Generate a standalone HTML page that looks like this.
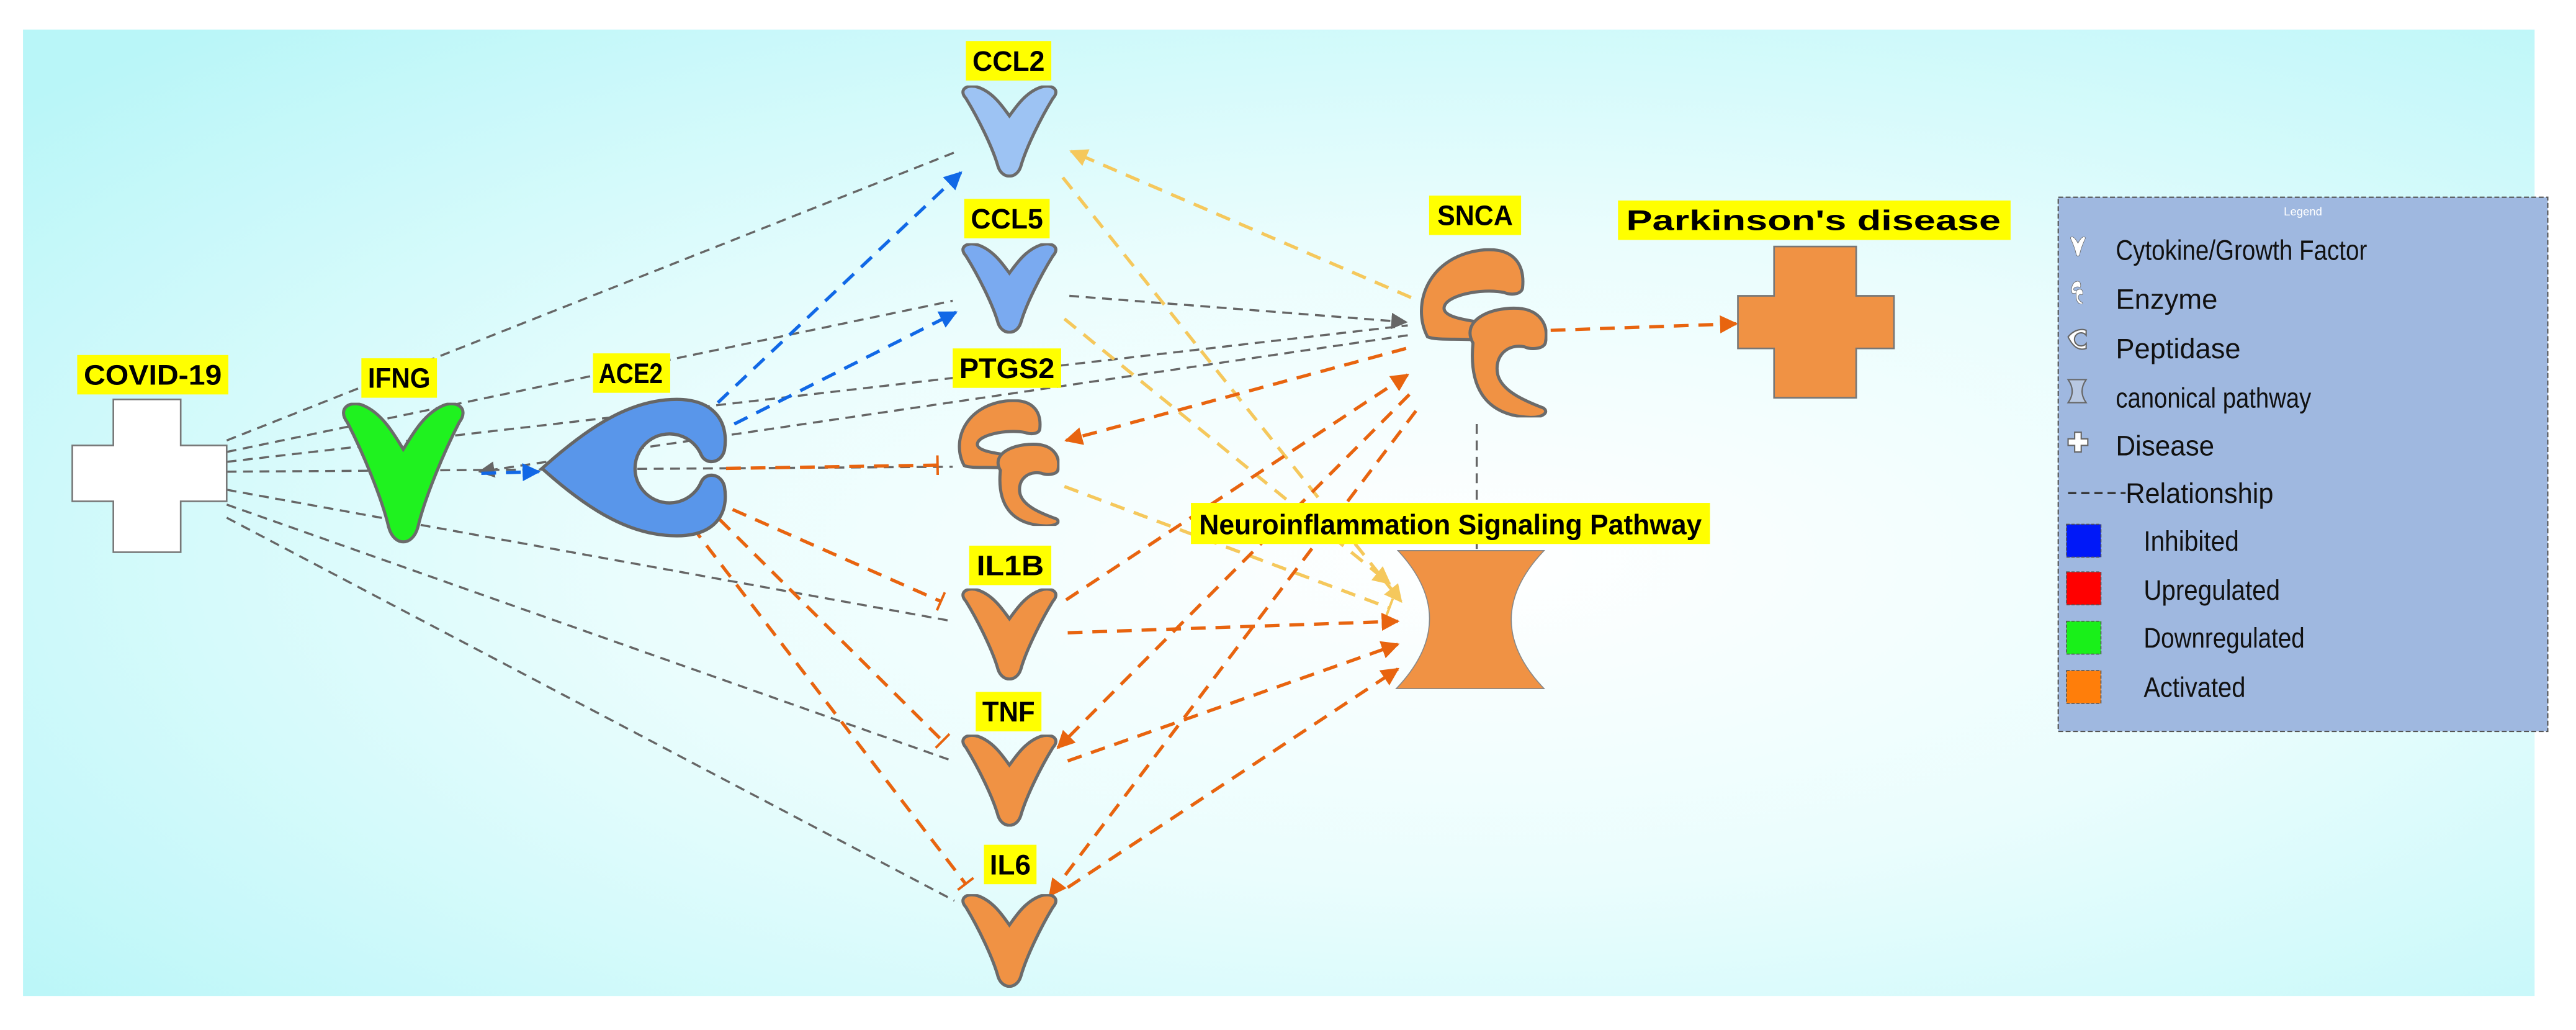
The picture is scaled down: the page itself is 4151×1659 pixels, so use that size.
<!DOCTYPE html>
<html><head><meta charset="utf-8"><style>html,body{margin:0;padding:0;background:#fff;}svg{display:block}</style></head>
<body>
<svg width="4151" height="1659" viewBox="0 0 1568.2 626.7" preserveAspectRatio="none" xmlns="http://www.w3.org/2000/svg">
<defs>
<radialGradient id="bg" cx="0.58" cy="0.55" r="0.75">
<stop offset="0" stop-color="#ffffff"/><stop offset="0.45" stop-color="#eafdfd"/><stop offset="1" stop-color="#b9f6f8"/>
</radialGradient>
<marker id="ag" viewBox="0 0 10 10" refX="9" refY="5" markerWidth="10" markerHeight="10" markerUnits="userSpaceOnUse" orient="auto"><path d="M0,0 L10,5 L0,10 Z" fill="#666"/></marker>
<marker id="ao" viewBox="0 0 10 10" refX="9" refY="5" markerWidth="11" markerHeight="11" markerUnits="userSpaceOnUse" orient="auto"><path d="M0,0 L10,5 L0,10 Z" fill="#e8640f"/></marker>
<marker id="ab" viewBox="0 0 10 10" refX="9" refY="5" markerWidth="11" markerHeight="11" markerUnits="userSpaceOnUse" orient="auto"><path d="M0,0 L10,5 L0,10 Z" fill="#1168e6"/></marker>
<marker id="ay" viewBox="0 0 10 10" refX="9" refY="5" markerWidth="11" markerHeight="11" markerUnits="userSpaceOnUse" orient="auto"><path d="M0,0 L10,5 L0,10 Z" fill="#f5c85c"/></marker>
<marker id="bo" viewBox="0 0 4 12" refX="2" refY="6" markerWidth="4" markerHeight="12" markerUnits="userSpaceOnUse" orient="auto"><rect x="1" y="0" width="1.5" height="12" fill="#e8640f"/></marker>
<marker id="by" viewBox="0 0 4 12" refX="2" refY="6" markerWidth="4" markerHeight="12" markerUnits="userSpaceOnUse" orient="auto"><rect x="1" y="0" width="1.5" height="12" fill="#f5c85c"/></marker>
<symbol id="vsh" viewBox="0 0 100 100" preserveAspectRatio="none">
<path vector-effect="non-scaling-stroke" d="M8,14 C0,4 10,-2 20,2 C35,8 44,24 50,33 C56,24 65,8 80,2 C90,-2 100,4 92,14 C80,36 66,68 61,88 C57,102 43,102 39,88 C34,68 20,36 8,14 Z"/>
</symbol>
<symbol id="enz" viewBox="0 0 310 535" preserveAspectRatio="none">
<path vector-effect="non-scaling-stroke" d="M20,280 C-20,180 20,20 160,5 C235,0 255,60 250,125 C248,145 225,150 205,140 C150,125 60,150 60,190 C60,215 100,225 150,235 L140,290 C90,285 40,292 20,280 Z"/>
<path vector-effect="non-scaling-stroke" d="M130,300 C100,230 170,185 240,190 C290,195 315,240 305,300 C300,318 272,322 255,312 C215,300 180,340 190,400 C200,450 250,480 300,505 C315,518 300,535 270,535 C160,530 120,440 130,300 Z"/>
</symbol>
</defs>
<rect x="0" y="0" width="1568.2" height="626.7" fill="#fff"/>
<rect x="14" y="18" width="1529" height="588" fill="url(#bg)"/>

<!-- grey relationships -->
<g fill="none" stroke="#666" stroke-width="1.3" stroke-dasharray="6 4">
<line x1="138" y1="268" x2="583" y2="92"/>
<line x1="138" y1="275" x2="580" y2="183"/>
<line x1="138" y1="281" x2="857" y2="198"/>
<line x1="138" y1="287" x2="580" y2="284"/>
<line x1="138" y1="298" x2="580" y2="378"/>
<line x1="138" y1="307" x2="580" y2="463"/>
<line x1="138" y1="315" x2="581" y2="548"/>
<line x1="857" y1="204" x2="292" y2="287" marker-end="url(#ag)"/>
<line x1="651" y1="180" x2="856" y2="196" marker-end="url(#ag)"/>
<line x1="899" y1="258" x2="899" y2="334"/>
</g>
<!-- yellow -->
<g fill="none" stroke="#f5c85c" stroke-width="2" stroke-dasharray="9 6">
<line x1="859" y1="181" x2="652" y2="92" marker-end="url(#ay)"/>
<line x1="647" y1="108" x2="853" y2="366" marker-end="url(#ay)"/>
<line x1="648" y1="194" x2="846" y2="355" marker-end="url(#ay)"/>
<line x1="648" y1="296" x2="846" y2="370" marker-end="url(#by)"/>
</g>
<!-- blue -->
<g fill="none" stroke="#1168e6" stroke-width="2" stroke-dasharray="9 6">
<line x1="437" y1="245" x2="585" y2="105" marker-end="url(#ab)"/>
<line x1="447" y1="258" x2="582" y2="190" marker-end="url(#ab)"/>
<line x1="293" y1="288" x2="328" y2="287" marker-end="url(#ab)"/>
</g>
<!-- orange -->
<g fill="none" stroke="#e8640f" stroke-width="2" stroke-dasharray="9 6">
<line x1="442" y1="285" x2="571" y2="283" marker-end="url(#bo)"/>
<line x1="446" y1="310" x2="573" y2="366" marker-end="url(#bo)"/>
<line x1="438" y1="316" x2="574" y2="451" marker-end="url(#bo)"/>
<line x1="421" y1="320" x2="588" y2="538" marker-end="url(#bo)"/>
<line x1="856" y1="212" x2="649" y2="268" marker-end="url(#ao)"/>
<line x1="649" y1="365" x2="857" y2="228" marker-end="url(#ao)"/>
<line x1="858" y1="240" x2="644" y2="455" marker-end="url(#ao)"/>
<line x1="862" y1="250" x2="639" y2="545" marker-end="url(#ao)"/>
<line x1="650" y1="385" x2="851" y2="378" marker-end="url(#ao)"/>
<line x1="650" y1="463" x2="851" y2="392" marker-end="url(#ao)"/>
<line x1="650" y1="540" x2="851" y2="407" marker-end="url(#ao)"/>
<line x1="944" y1="201" x2="1057" y2="197" marker-end="url(#ao)"/>
</g>

<!-- nodes -->
<polygon points="69,243 110,243 110,271 138,271 138,305 110,305 110,336 69,336 69,305 44,305 44,271 69,271" fill="#fff" stroke="#777" stroke-width="1"/>
<polygon points="1080,150 1130,150 1130,180 1153,180 1153,212 1130,212 1130,242 1080,242 1080,212 1058,212 1058,180 1080,180" fill="#f09244" stroke="#777" stroke-width="1"/>
<g stroke="#6b6b6b" stroke-width="5">
<use href="#vsh" x="205" y="245" width="81" height="86" fill="#1ff21f"/>
<use href="#vsh" x="583" y="52" width="63" height="56" fill="#9dc3f3"/>
<use href="#vsh" x="583" y="148" width="63" height="55" fill="#7aaaf0"/>
<use href="#vsh" x="583" y="358" width="63" height="56" fill="#f09244"/>
<use href="#vsh" x="583" y="447" width="63" height="56" fill="#f09244"/>
<use href="#vsh" x="583" y="544" width="63" height="57" fill="#f09244"/>
<use href="#enz" x="583" y="243" width="62" height="77" fill="#f09244"/>
<use href="#enz" x="864" y="151" width="78" height="103" fill="#f09244"/>
</g>
<path d="M330,285 C360,258 385,243 412,243 C434,243 444,256 441,274 C439,282 430,283 427,277 A21,21 0 1 0 427,293 C430,287 439,288 441,296 C444,314 434,326 412,326 C385,326 360,312 330,285 Z" fill="#5996ea" stroke="#666" stroke-width="2"/>
<path d="M851,335 L940,335 Q900,377 940,419 L850,419 Q890,377 851,335 Z" fill="#f09244" stroke="#888" stroke-width="0.6"/>

<!-- labels -->
<g font-family="'Liberation Sans Narrow','Liberation Sans',sans-serif" font-weight="bold" font-size="17" text-anchor="middle" fill="#000">
<rect x="47" y="216" width="92" height="24" fill="#ffff00"/><text x="93" y="234" textLength="84" lengthAdjust="spacingAndGlyphs">COVID-19</text>
<rect x="220" y="218" width="46" height="24" fill="#ffff00"/><text x="243" y="236" textLength="38" lengthAdjust="spacingAndGlyphs">IFNG</text>
<rect x="361" y="215" width="47" height="24" fill="#ffff00"/><text x="384" y="233" textLength="39" lengthAdjust="spacingAndGlyphs">ACE2</text>
<rect x="588" y="25" width="52" height="24" fill="#ffff00"/><text x="614" y="43" textLength="44" lengthAdjust="spacingAndGlyphs">CCL2</text>
<rect x="587" y="121" width="52" height="24" fill="#ffff00"/><text x="613" y="139" textLength="44" lengthAdjust="spacingAndGlyphs">CCL5</text>
<rect x="580" y="212" width="66" height="24" fill="#ffff00"/><text x="613" y="230" textLength="58" lengthAdjust="spacingAndGlyphs">PTGS2</text>
<rect x="590" y="332" width="50" height="24" fill="#ffff00"/><text x="615" y="350" textLength="41" lengthAdjust="spacingAndGlyphs">IL1B</text>
<rect x="594" y="421" width="40" height="24" fill="#ffff00"/><text x="614" y="439" textLength="32" lengthAdjust="spacingAndGlyphs">TNF</text>
<rect x="599" y="514" width="32" height="24" fill="#ffff00"/><text x="615" y="532" textLength="25" lengthAdjust="spacingAndGlyphs">IL6</text>
<rect x="870" y="119" width="56" height="24" fill="#ffff00"/><text x="898" y="137" textLength="46" lengthAdjust="spacingAndGlyphs">SNCA</text>
<rect x="985" y="122" width="239" height="24" fill="#ffff00"/><text x="1104" y="140" textLength="228" lengthAdjust="spacingAndGlyphs">Parkinson's disease</text>
<rect x="725" y="306" width="316" height="25" fill="#ffff00"/><text x="883" y="325" textLength="306" lengthAdjust="spacingAndGlyphs">Neuroinflammation Signaling Pathway</text>
</g>

<!-- legend -->
<rect x="1253" y="120" width="298" height="325" fill="#9fb8e0" stroke="#555" stroke-width="0.8" stroke-dasharray="3 1.5"/>
<text x="1402" y="131" font-family="'Liberation Sans',sans-serif" font-size="7" fill="#fff" text-anchor="middle">Legend</text>
<g font-family="'Liberation Sans Narrow','Liberation Sans',sans-serif" font-size="17" fill="#111">
<text x="1288" y="158" textLength="153" lengthAdjust="spacingAndGlyphs">Cytokine/Growth Factor</text>
<text x="1288" y="188" textLength="62" lengthAdjust="spacingAndGlyphs">Enzyme</text>
<text x="1288" y="218" textLength="76" lengthAdjust="spacingAndGlyphs">Peptidase</text>
<text x="1288" y="248" textLength="119" lengthAdjust="spacingAndGlyphs">canonical pathway</text>
<text x="1288" y="277" textLength="60" lengthAdjust="spacingAndGlyphs">Disease</text>
<text x="1294" y="306" textLength="90" lengthAdjust="spacingAndGlyphs">Relationship</text>
<text x="1305" y="335" textLength="58" lengthAdjust="spacingAndGlyphs">Inhibited</text>
<text x="1305" y="365" textLength="83" lengthAdjust="spacingAndGlyphs">Upregulated</text>
<text x="1305" y="394" textLength="98" lengthAdjust="spacingAndGlyphs">Downregulated</text>
<text x="1305" y="424" textLength="62" lengthAdjust="spacingAndGlyphs">Activated</text>
</g>
<g stroke="#666" stroke-width="0.8">
<use href="#vsh" x="1260" y="144" width="10" height="12" fill="#fff"/>
<use href="#enz" x="1261" y="171" width="7" height="14" fill="#fff"/>
<path d="M1259,205 C1263,200 1268,200 1270,201 L1270,204 A4,4 0 1 0 1270,209 L1270,212 C1267,213 1263,213 1259,205 Z" fill="#fff"/>
<path d="M1259,231 L1270,231 Q1265,238 1270,245 L1259,245 Q1264,238 1259,231 Z" fill="#b8c8e2"/>
<polygon points="1263,263 1267,263 1267,267 1271,267 1271,271 1267,271 1267,275 1263,275 1263,271 1259,271 1259,267 1263,267" fill="#fff"/>
</g>
<line x1="1259" y1="300" x2="1294" y2="300" stroke="#333" stroke-width="1.3" stroke-dasharray="5 3"/>
<g stroke="#555" stroke-width="0.6" stroke-dasharray="2 1">
<rect x="1258" y="319" width="21" height="20" fill="#0018f8"/>
<rect x="1258" y="348" width="21" height="20" fill="#ff0000"/>
<rect x="1258" y="378" width="21" height="20" fill="#19f019"/>
<rect x="1258" y="408" width="21" height="20" fill="#ff7e0a"/>
</g>
</svg>
</body></html>
